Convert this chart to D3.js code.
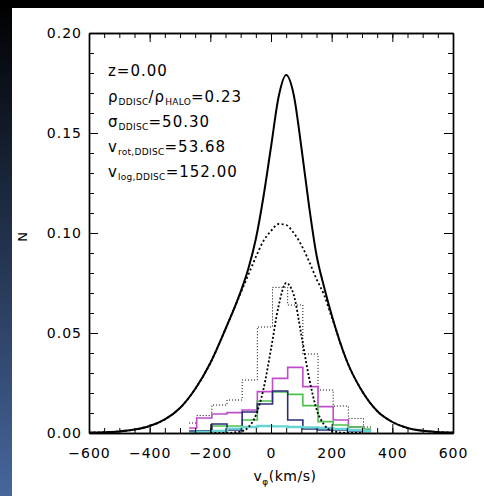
<!DOCTYPE html>
<html><head><meta charset="utf-8">
<script src="https://cdn.jsdelivr.net/npm/d3@7/dist/d3.min.js"></script>
<style>html,body{margin:0;padding:0;background:#fff;}svg{display:block;}</style>
</head><body>
<script>
// ---- data ----
const vGrid   = [-600,-550,-500,-450,-400,-350,-300,-250,-200,-150,-100,-75,-50,-25,0,25,50,75,100,125,150,175,200,250,300,350,400,450,500,550,600];
const totalN  = [0.0002,0.0004,0.0008,0.0017,0.0035,0.0068,0.0125,0.022,0.035,0.052,0.0707,0.082,0.097,0.118,0.143,0.168,0.179,0.169,0.143,0.114,0.089,0.073,0.059,0.036,0.021,0.011,0.0055,0.0025,0.0011,0.0005,0.0002];
const haloN   = [0.0002,0.0004,0.0008,0.0017,0.0035,0.0068,0.0125,0.022,0.035,0.052,0.070,0.079,0.088,0.096,0.101,0.1045,0.104,0.100,0.094,0.086,0.077,0.069,0.058,0.036,0.021,0.011,0.0055,0.0025,0.0011,0.0005,0.0002];
const discV   = [-200,-150,-100,-75,-50,-25,0,25,50,75,100,125,150,175,200,250,300];
const discN   = [0,0.00002,0.0007,0.0028,0.0088,0.0218,0.042,0.0635,0.075,0.069,0.049,0.028,0.012,0.0042,0.0011,0.00004,0];

const binCenters = [-270,-220,-170,-120,-70,-20,30,80,130,180,230,280,330];
const histAll     = [0.005,0.0087,0.014,0.0165,0.0265,0.053,0.0728,0.064,0.0395,0.0215,0.0135,0.0073,0.003];
const histMagenta = [0.0025,0.0075,0.0095,0.0102,0.0115,0.0207,0.0273,0.0328,0.0232,0.0132,0.0065,0.003,0.0015];
const histGreen   = [0.0005,0.001,0.0035,0.0035,0.0065,0.016,0.0205,0.0193,0.0137,0.0057,0.004,0.003,0.002];
const histNavy    = [0.001,0.001,0.0045,0.0015,0.0105,0.0145,0.021,0.0065,0.002,0.0015,0.0015,0.001,0.0008];
const histCyan    = [0,0.0005,0.001,0.0022,0.003,0.0035,0.0033,0.003,0.0028,0.0025,0.002,0.0015,0.001];

const xMajor = [-600,-400,-200,0,200,400,600];
const yMajor = [0,0.05,0.10,0.15,0.20];

const W = 484, H = 496;
const svg = d3.select('body').append('svg').attr('width',W).attr('height',H);

// frame
const defs = svg.append('defs');
const lg = defs.append('linearGradient').attr('id','lg').attr('x1',0).attr('y1',0).attr('x2',0).attr('y2',1);
lg.append('stop').attr('offset','0%').attr('stop-color','#000');
lg.append('stop').attr('offset','100%').attr('stop-color','#46669c');
svg.append('rect').attr('x',0).attr('y',0).attr('width',W).attr('height',H).attr('fill','#fff');
svg.append('rect').attr('x',0).attr('y',0).attr('width',12).attr('height',H).attr('fill','url(#lg)');
svg.append('rect').attr('x',0).attr('y',0).attr('width',W).attr('height',8).attr('fill','#000');

const x = d3.scaleLinear().domain([-600,600]).range([89,453]);
const y = d3.scaleLinear().domain([0,0.2]).range([433,33]);

const font = "'DejaVu Sans', sans-serif";

// histograms
const stepLine = d3.line().x(d=>x(d[0])).y(d=>y(d[1])).curve(d3.curveStep);
function hist(vals, color, width, dash){
  svg.append('path').datum(binCenters.map((c,i)=>[c,vals[i]]))
    .attr('d',stepLine).attr('fill','none').attr('stroke',color)
    .attr('stroke-width',width).attr('stroke-dasharray',dash||null);
}
hist(histAll,'#000',1,'1,2');
hist(histMagenta,'#c04ccc',1.6);
hist(histGreen,'#4cc24c',1.6);
hist(histNavy,'#2c2c7c',1.6);
hist(histCyan,'#66d4d4',2.4);

// smooth curves
const smooth = d3.line().x(d=>x(d[0])).y(d=>y(d[1])).curve(d3.curveMonotoneX);
svg.append('path').datum(vGrid.map((v,i)=>[v,haloN[i]])).attr('d',smooth)
  .attr('fill','none').attr('stroke','#000').attr('stroke-width',1.8).attr('stroke-dasharray','2,2.5');
svg.append('path').datum(discV.map((v,i)=>[v,discN[i]])).attr('d',smooth)
  .attr('fill','none').attr('stroke','#000').attr('stroke-width',1.8).attr('stroke-dasharray','2,2');
svg.append('path').datum(vGrid.map((v,i)=>[v,totalN[i]])).attr('d',smooth)
  .attr('fill','none').attr('stroke','#000').attr('stroke-width',2);

// axes
function styleAxis(g){
  g.selectAll('.domain').attr('stroke','#000').attr('stroke-width',1.4);
  g.selectAll('.tick line').attr('stroke','#000').attr('stroke-width',1);
  g.selectAll('text').attr('font-family',font).attr('font-size',14).attr('letter-spacing',1).attr('fill','#000');
}
const fmtX = d => d<0 ? '\u2212'+Math.abs(d) : String(d);
const xMinor = d3.range(-600,601,50);
const yMinor = d3.range(0,0.2001,0.01);

svg.append('g').attr('transform','translate(0,433)')
  .call(d3.axisBottom(x).tickValues(xMinor).tickSize(-5).tickSizeOuter(0).tickFormat('')).call(styleAxis);
svg.append('g').attr('transform','translate(0,433)')
  .call(d3.axisBottom(x).tickValues(xMajor).tickSize(-9).tickSizeOuter(0).tickPadding(15).tickFormat(fmtX)).call(styleAxis);
svg.append('g').attr('transform','translate(0,33)')
  .call(d3.axisTop(x).tickValues(xMinor).tickSize(-5).tickSizeOuter(0).tickFormat('')).call(styleAxis);
svg.append('g').attr('transform','translate(0,33)')
  .call(d3.axisTop(x).tickValues(xMajor).tickSize(-9).tickSizeOuter(0).tickFormat('')).call(styleAxis);
svg.append('g').attr('transform','translate(89,0)')
  .call(d3.axisLeft(y).tickValues(yMinor).tickSize(-5).tickSizeOuter(0).tickFormat('')).call(styleAxis);
svg.append('g').attr('transform','translate(89,0)')
  .call(d3.axisLeft(y).tickValues(yMajor).tickSize(-9).tickSizeOuter(0).tickPadding(7).tickFormat(d3.format('.2f'))).call(styleAxis);
svg.append('g').attr('transform','translate(453,0)')
  .call(d3.axisRight(y).tickValues(yMinor).tickSize(-5).tickSizeOuter(0).tickFormat('')).call(styleAxis);
svg.append('g').attr('transform','translate(453,0)')
  .call(d3.axisRight(y).tickValues(yMajor).tickSize(-9).tickSizeOuter(0).tickFormat('')).call(styleAxis);

// axis titles
svg.append('text').attr('transform','translate(27,237) rotate(-90)').attr('text-anchor','middle')
  .attr('font-family',font).attr('font-size',13).text('N');
const xt = svg.append('text').attr('x',285).attr('y',481).attr('text-anchor','middle')
  .attr('font-family',font).attr('font-size',14).attr('letter-spacing',0.5);
xt.append('tspan').text('v');
xt.append('tspan').attr('dy',4).attr('font-size',9).text('\u03c6');
xt.append('tspan').attr('dy',-4).text('(km/s)');

// annotation
const ann = [
  {base:[{t:'z=0.00'}]},
  {base:[{t:'\u03c1'},{t:'DDISC',sub:true},{t:'/\u03c1'},{t:'HALO',sub:true},{t:'=0.23'}]},
  {base:[{t:'\u03c3'},{t:'DDISC',sub:true},{t:'=50.30'}]},
  {base:[{t:'v'},{t:'rot,DDISC',sub:true},{t:'=53.68'}]},
  {base:[{t:'v'},{t:'log,DDISC',sub:true},{t:'=152.00'}]}
];
const baselines = [76,102,127,152,177];
ann.forEach((a,i)=>{
  const t = svg.append('text').attr('x',108).attr('y',baselines[i])
    .attr('font-family',font).attr('font-size',15).attr('letter-spacing',1);
  let down = false;
  a.base.forEach(p=>{
    const s = t.append('tspan').text(p.t);
    if(p.sub && !down){ s.attr('dy',3).attr('font-size',9).attr('letter-spacing',0.3); down=true; }
    else if(p.sub){ s.attr('font-size',9).attr('letter-spacing',0.3); }
    else if(down){ s.attr('dy',-3); down=false; }
  });
});
</script>
</body></html>
